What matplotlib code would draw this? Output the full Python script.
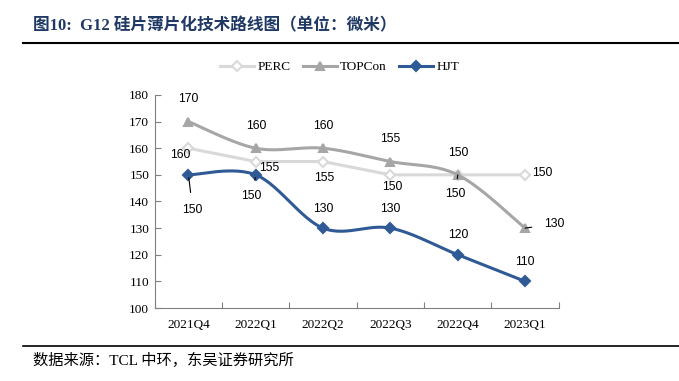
import numpy as np
import matplotlib
matplotlib.use("Agg")
from matplotlib import pyplot as plt
from matplotlib.lines import Line2D

plt.rcParams['font.family'] = ['Liberation Serif', 'Noto Sans CJK SC']

quarters = ['2021Q4', '2022Q1', '2022Q2', '2022Q3', '2022Q4', '2023Q1']
perc = [160, 155, 155, 150, 150, 150]
topcon = [170, 160, 160, 155, 150, 130]
hjt = [150, 150, 130, 130, 120, 110]

c_perc = '#D9D9D9'
c_top = '#A6A6A6'
c_hjt = '#2F5A96'

# scale used so the smoothing looks like excel (done in "pixel" space)
SX, SY = 67.3, 2.66


def smooth(xs, ys, n=30):
    P = np.column_stack([np.asarray(xs, float) * SX, np.asarray(ys, float) * SY])
    P = np.vstack([P[0], P, P[-1]])
    out = []
    for i in range(1, len(P) - 2):
        p0, p1, p2, p3 = P[i - 1], P[i], P[i + 1], P[i + 2]
        c1 = p1 + (p2 - p0) / 6.0
        c2 = p2 - (p3 - p1) / 6.0
        t = np.linspace(0, 1, n)[:, None]
        seg = (1 - t) ** 3 * p1 + 3 * (1 - t) ** 2 * t * c1 + 3 * (1 - t) * t ** 2 * c2 + t ** 3 * p2
        out.append(seg if i == 1 else seg[1:])
    out = np.vstack(out)
    return out[:, 0] / SX, out[:, 1] / SY


fig = plt.figure(figsize=(6.79, 3.81), dpi=100)
ax = fig.add_axes([0.228, 0.1916, 0.595, 0.5591])

x = np.arange(len(quarters))

for ys, col, mk, mfc, ms, lab, sm in [
        (perc, c_perc, 'D', 'white', 5, 'PERC', False),
        (topcon, c_top, '^', c_top, 6, 'TOPCon', True),
        (hjt, c_hjt, 'D', c_hjt, 5.5, 'HJT', True)]:
    if sm:
        sx, sy = smooth(x, ys)
    else:
        sx, sy = x, ys
    ax.plot(sx, sy, color=col, lw=2.2, solid_capstyle='round', solid_joinstyle='round')
    ax.plot(x, ys, ls='none', marker=mk, ms=ms, mfc=mfc, mec=col, mew=1.5)
    ax.plot([], [], color=col, lw=2.2, marker=mk, ms=ms, mfc=mfc, mec=col, mew=1.5, label=lab)

lab_kw = dict(fontsize=8.8, family='Liberation Sans', color='black', ha='center', va='center')

# TOPCon labels (above)
for i in range(5):
    ax.annotate(str(topcon[i]), (x[i], topcon[i]), xytext=(0, 16), textcoords='offset points', **lab_kw)
ax.annotate(str(topcon[5]), (x[5], topcon[5]), xytext=(21, 3), textcoords='offset points',
            arrowprops=dict(arrowstyle='-', color='black', lw=0.8, shrinkA=7, shrinkB=0), **lab_kw)

# PERC labels
ax.annotate(str(perc[0]), (x[0], perc[0]), xytext=(-6, -5), textcoords='offset points', **lab_kw)
ax.annotate(str(perc[1]), (x[1], perc[1]), xytext=(10, -5), textcoords='offset points', **lab_kw)
ax.annotate(str(perc[2]), (x[2], perc[2]), xytext=(1, -12), textcoords='offset points', **lab_kw)
ax.annotate(str(perc[3]), (x[3], perc[3]), xytext=(1, -9), textcoords='offset points', **lab_kw)
ax.annotate(str(perc[4]), (x[4], perc[4]), xytext=(-2, -14), textcoords='offset points',
            arrowprops=dict(arrowstyle='-', color='black', lw=0.8, shrinkA=5, shrinkB=3), **lab_kw)
ax.annotate(str(perc[5]), (x[5], perc[5]), xytext=(12, 1), textcoords='offset points', **lab_kw)

# HJT labels
ax.annotate(str(hjt[0]), (x[0], hjt[0]), xytext=(3, -25), textcoords='offset points',
            arrowprops=dict(arrowstyle='-', color='black', lw=0.8, shrinkA=6, shrinkB=2), **lab_kw)
ax.annotate(str(hjt[1]), (x[1], hjt[1]), xytext=(-3, -15), textcoords='offset points',
            arrowprops=dict(arrowstyle='-', color='black', lw=0.8, shrinkA=5, shrinkB=2), **lab_kw)
for i in range(2, 6):
    ax.annotate(str(hjt[i]), (x[i], hjt[i]), xytext=(0, 14), textcoords='offset points', **lab_kw)

ax.set_xlim(-0.5, 5.5)
ax.set_ylim(100, 180)
ax.set_yticks(range(100, 181, 10))
ax.set_xticks(np.arange(-0.5, 5.6, 1), minor=False)
ax.set_xticklabels([])
ax.set_xticks(x, minor=True)
ax.set_xticklabels(quarters, minor=True)
ax.tick_params(axis='x', which='minor', length=0, labelsize=9.5, pad=8)
ax.tick_params(axis='x', which='major', length=4, direction='in', color='#808080')
ax.tick_params(axis='y', length=4, direction='in', color='#808080', labelsize=9.5, pad=4)
for s in ['top', 'right']:
    ax.spines[s].set_visible(False)
for s in ['left', 'bottom']:
    ax.spines[s].set_color('#808080')
    ax.spines[s].set_linewidth(0.8)

fig.legend(loc='center', bbox_to_anchor=(0.5, 0.824), ncol=3, frameon=False,
           fontsize=9.5, handlelength=2.6, columnspacing=0.9, handletextpad=0.25)

fig.text(0.049, 0.93, '图10:  G12 硅片薄片化技术路线图（单位：微米）', fontsize=12, weight='bold',
         color='#1F3864', ha='left', va='center')
fig.add_artist(Line2D([0.034, 1.0], [0.887, 0.887], color='black', lw=1.5))
fig.add_artist(Line2D([0.034, 1.0], [0.092, 0.092], color='black', lw=1.2))
fig.text(0.049, 0.055, '数据来源：TCL 中环，东吴证券研究所', fontsize=11, color='black',
         ha='left', va='center')

fig.savefig('out.png', dpi=100)
